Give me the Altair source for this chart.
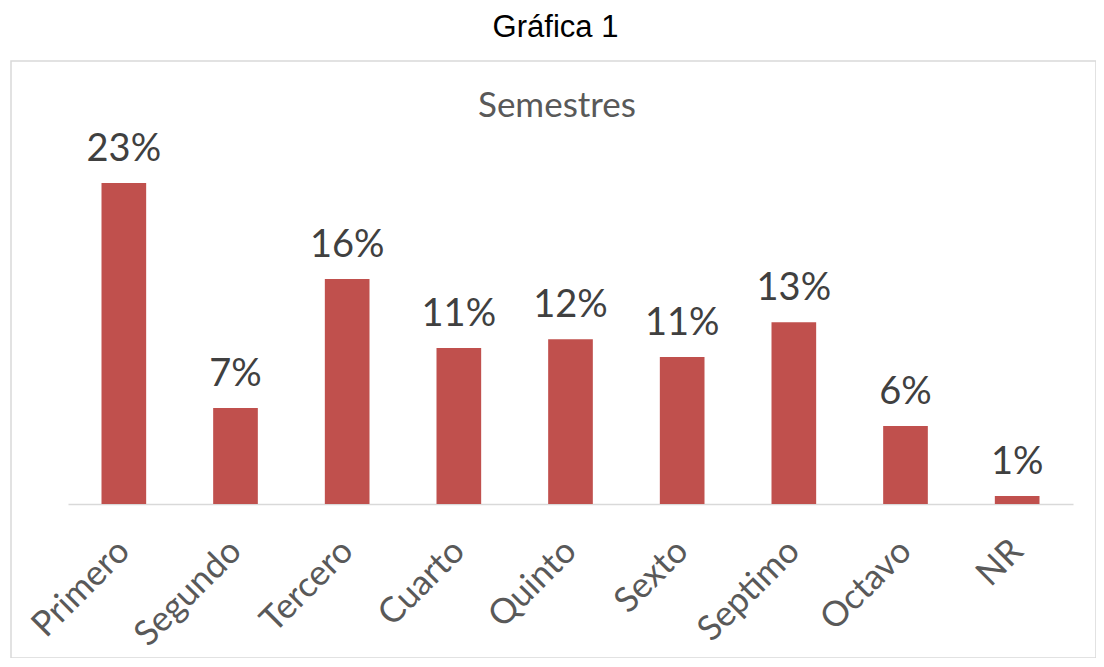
import altair as alt
import pandas as pd

categories = ["Primero", "Segundo", "Tercero", "Cuarto", "Quinto", "Sexto", "Septimo", "Octavo", "NR"]
values = [0.230, 0.0688, 0.1612, 0.1118, 0.1180, 0.1053, 0.1302, 0.0559, 0.0057]
chart_title = "Gráfica 1"
inner_title = "Semestres"

df = pd.DataFrame({"semestre": categories, "valor": values})

W, H = 1085, 597

x_enc = alt.X(
    "semestre:N",
    sort=categories,
    scale=alt.Scale(range=[57, 1062], paddingInner=0.6, paddingOuter=0.3),
    axis=alt.Axis(
        orient="bottom",
        offset=-154,
        title=None,
        domainColor="#D9D9D9",
        domainWidth=1.5,
        ticks=False,
        grid=False,
        labelAngle=315,
        labelAlign="right",
        labelBaseline="middle",
        labelFont="Lato",
        labelFontSize=35,
        labelColor="#595959",
        labelPadding=41,
        labelOverlap=False,
        labelLimit=400,
    ),
)
y_enc = alt.Y(
    "valor:Q",
    scale=alt.Scale(domain=[-0.1103, 0.3174], nice=False, zero=False),
    axis=None,
)

base = alt.Chart(df)

bars = base.mark_bar(color="#C0504D").encode(
    x=x_enc,
    y=y_enc,
    y2=alt.datum(0),
)

labels = base.mark_text(
    font="Lato", fontSize=38, color="#404040", baseline="alphabetic", align="center", dy=-22
).encode(
    x=x_enc,
    y=y_enc,
    text=alt.Text("valor:Q", format=".0%"),
)

title_text = alt.Chart(pd.DataFrame({"t": [inner_title]})).mark_text(
    font="Lato", fontSize=35, color="#595959", baseline="alphabetic", align="center"
).encode(
    x=alt.value(546),
    y=alt.value(56),
    text="t:N",
)

chart = alt.layer(bars, labels, title_text).properties(
    width=W,
    height=H,
    padding={"left": 3, "top": 4, "right": 0, "bottom": 0},
    title=alt.TitleParams(
        chart_title,
        font="Liberation Sans",
        fontSize=31,
        fontWeight="normal",
        color="black",
        anchor="middle",
        baseline="top",
        offset=17,
        dx=2,
    ),
).configure_view(stroke="#D9D9D9", strokeWidth=1.5)

chart.save("out.html", embed_options={"renderer": "svg", "actions": False})
